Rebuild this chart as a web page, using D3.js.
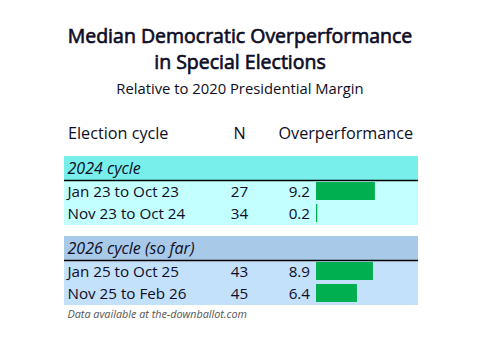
<!DOCTYPE html>
<html>
<head>
<meta charset="utf-8">
<script src="https://cdn.jsdelivr.net/npm/d3@7"></script>
<style>
  body { margin: 0; background: #fff; }
  text { font-family: "Open Sans", sans-serif; fill: #0d0d26; }
</style>
</head>
<body>
<div id="chart"></div>
<script>
var groups = ["2024 cycle", "2026 cycle (so far)"];
var periods = ["Jan 23 to Oct 23", "Nov 23 to Oct 24", "Jan 25 to Oct 25", "Nov 25 to Feb 26"];
var periodGroup = [0, 0, 1, 1];
var counts = [27, 34, 43, 45];
var overperf = [9.2, 0.2, 8.9, 6.4];

var w = 482, h = 349;
var headFill = ["#79efeb", "#a9c9e9"];
var rowFill = ["#c4ffff", "#c4e1fb"];

var svg = d3.select("#chart").append("svg")
  .attr("width", w)
  .attr("height", h);

// title (regular face, thickened a bit with a stroke)
["Median Democratic Overperformance", "in Special Elections"].forEach(function(t, i) {
  svg.append("text").attr("x", 240).attr("y", 43 + i * 26).attr("text-anchor", "middle")
    .style("font-size", "19.5px")
    .style("stroke", "#0d0d26").style("stroke-width", 0.65)
    .text(t);
});
svg.append("text").attr("x", 240).attr("y", 94).attr("text-anchor", "middle")
  .style("font-size", "14.8px")
  .text("Relative to 2020 Presidential Margin");

// column headers
var hdr = svg.append("g").style("font-size", "16.2px");
hdr.append("text").attr("x", 68).attr("y", 139).text("Election cycle");
hdr.append("text").attr("x", 239.5).attr("y", 139).attr("text-anchor", "middle").text("N");
hdr.append("text").attr("x", 413).attr("y", 139).attr("text-anchor", "end").text("Overperformance");

var left = 64, right = 418;
var headH = 24, rowH = 22;
var groupTop = [156, 236];

var x = d3.scaleLinear().domain([0, 10]).range([316, 380]);

var g = svg.selectAll("g.group").data(groups).enter().append("g").attr("class", "group")
  .attr("transform", function(d, i) { return "translate(0," + groupTop[i] + ")"; });

g.append("rect").attr("x", left).attr("y", 0).attr("width", right - left).attr("height", headH)
  .attr("fill", function(d, i) { return headFill[i]; });
g.append("rect").attr("x", left).attr("y", headH).attr("width", right - left).attr("height", rowH * 2 + 1)
  .attr("fill", function(d, i) { return rowFill[i]; });
g.append("line").attr("x1", left).attr("x2", right).attr("y1", headH + 0.5).attr("y2", headH + 0.5)
  .attr("stroke", "#000").attr("stroke-width", 1.3);
g.append("text").attr("x", 67.5).attr("y", 17.5).style("font-size", "16px").style("font-style", "italic")
  .text(function(d) { return d; });

var rows = svg.selectAll("g.row").data(periods).enter().append("g").attr("class", "row")
  .attr("transform", function(d, i) {
    var k = i - (periodGroup[i] === 0 ? 0 : 2);
    return "translate(0," + (groupTop[periodGroup[i]] + headH + 1 + k * rowH) + ")";
  });

rows.append("text").attr("x", 67.5).attr("y", 16).style("font-size", "15.2px")
  .text(function(d) { return d; });
rows.append("text").attr("x", 239.5).attr("y", 16).attr("text-anchor", "middle").style("font-size", "15.2px")
  .text(function(d, i) { return counts[i]; });
rows.append("text").attr("x", 310).attr("y", 16).attr("text-anchor", "end").style("font-size", "15.2px")
  .text(function(d, i) { return overperf[i].toFixed(1); });
rows.append("rect").attr("x", x(0)).attr("y", 1).attr("height", 18)
  .attr("width", function(d, i) { return x(overperf[i]) - x(0); })
  .attr("fill", "#00b050");

svg.append("text").attr("x", 67.5).attr("y", 318)
  .style("font-size", "10.8px").style("font-style", "italic").style("fill", "#555")
  .text("Data available at the-downballot.com");
</script>
</body>
</html>
